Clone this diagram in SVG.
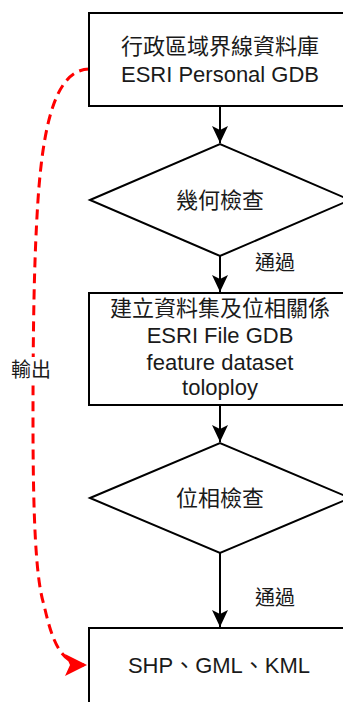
<svg xmlns="http://www.w3.org/2000/svg" width="343" height="702" viewBox="0 0 343 702">
<style>
.box{fill:#fff;stroke:#000;stroke-width:2}
.t{font-family:"Liberation Sans","Noto Sans CJK TC",Arial,sans-serif;font-size:22px;fill:#1a1a1a;text-anchor:middle}
.lbl{font-family:"Liberation Sans","Noto Sans CJK TC",Arial,sans-serif;font-size:20px;fill:#1a1a1a}
.edge{fill:none;stroke:#000;stroke-width:2}
.out{fill:none;stroke:#ff0000;stroke-width:3;stroke-dasharray:10 6}
</style>
<defs>
<marker id="ab" markerUnits="userSpaceOnUse" viewBox="-18 -9 19 18" markerWidth="19" markerHeight="18" refX="0" refY="0" orient="auto">
<path d="M0,0 L-17,-8 L-13,0 L-17,8 Z" fill="#000"/>
</marker>
<marker id="ar" markerUnits="userSpaceOnUse" viewBox="-23 -12 24 24" markerWidth="24" markerHeight="24" refX="0" refY="0" orient="auto">
<path d="M0,0 L-22,-11 L-17,0 L-22,11 Z" fill="#ff0000"/>
</marker>
</defs>
<rect width="343" height="702" fill="#fff"/>
<g id="connectors">
<path class="edge" d="M220,106 L220,143" marker-end="url(#ab)"/>
<path class="edge" d="M220,256 L220,292" marker-end="url(#ab)"/>
<path class="edge" d="M220,405 L220,442" marker-end="url(#ab)"/>
<path class="edge" d="M220,553 L220,627" marker-end="url(#ab)"/>
<path class="out" d="M89,69 C60,70 44,110 38,200 C34,260 33,330 33,420 C33,520 36,580 44,605 C52,640 60,665 87,665" marker-end="url(#ar)"/>
<text class="lbl" x="255" y="270">通過</text>
<text class="lbl" x="255" y="605">通過</text>
<rect x="10" y="357" width="42" height="26" fill="#fff"/>
<text class="lbl" x="31" y="377" text-anchor="middle">輸出</text>
</g>
<g id="n1">
<rect class="box" x="89" y="13" width="270" height="93"/>
<text class="t" x="220" y="54">行政區域界線資料庫</text>
<text class="t" x="220" y="82">ESRI Personal GDB</text>
</g>
<g id="n2">
<polygon class="box" points="90,200 220,144 350,200 220,256"/>
<text class="t" x="220" y="208">幾何檢查</text>
</g>
<g id="n3">
<rect class="box" x="89" y="293" width="270" height="112"/>
<text class="t" x="220" y="316">建立資料集及位相關係</text>
<text class="t" x="220" y="343">ESRI File GDB</text>
<text class="t" x="220" y="370">feature dataset</text>
<text class="t" x="220" y="395">toloploy</text>
</g>
<g id="n4">
<polygon class="box" points="90,498 220,443 350,498 220,553"/>
<text class="t" x="220" y="506">位相檢查</text>
</g>
<g id="n5">
<rect class="box" x="89" y="628" width="270" height="90"/>
<text class="t" x="219" y="673">SHP、GML、KML</text>
</g>
</svg>
